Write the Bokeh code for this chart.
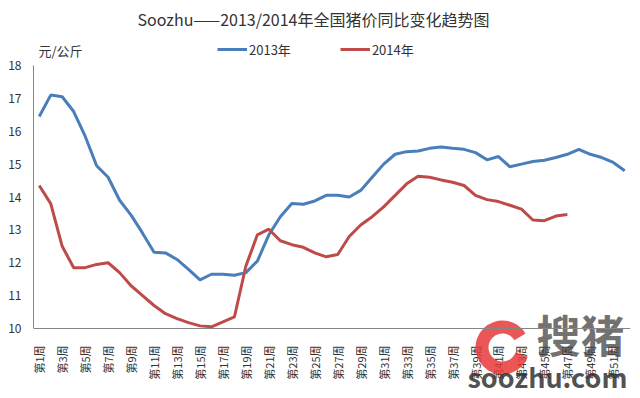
import math
from bokeh.plotting import figure
from bokeh.models import Range1d, FixedTicker, Legend, LegendItem, Span, ColumnDataSource
from bokeh.core.properties import value
from bokeh.embed import file_html
from bokeh.resources import INLINE

week_no = list(range(1, 53))
weeks = [f"第{i}周" for i in week_no]

price_2013 = [16.45, 17.1, 17.05, 16.6, 15.85, 14.95, 14.6, 13.9, 13.45, 12.9,
              12.32, 12.3, 12.1, 11.8, 11.48, 11.65, 11.65, 11.62, 11.7, 12.05,
              12.85, 13.4, 13.8, 13.78, 13.88, 14.05, 14.05, 14.0, 14.2, 14.6,
              15.0, 15.3, 15.38, 15.4, 15.48, 15.52, 15.48, 15.45, 15.35, 15.13,
              15.23, 14.92, 15.0, 15.08, 15.12, 15.2, 15.3, 15.45, 15.3, 15.2,
              15.05, 14.8]

price_2014 = [14.35, 13.8, 12.5, 11.85, 11.85, 11.95, 12.0, 11.7, 11.3, 11.0,
              10.7, 10.45, 10.3, 10.18, 10.08, 10.05, 10.2, 10.35, 11.9, 12.85,
              13.02, 12.67, 12.55, 12.47, 12.3, 12.18, 12.25, 12.8, 13.15, 13.4,
              13.7, 14.05, 14.4, 14.63, 14.6, 14.52, 14.45, 14.35, 14.05, 13.92,
              13.86, 13.75, 13.63, 13.3, 13.28, 13.42, 13.47]

y_ticks = [10, 11, 12, 13, 14, 15, 16, 17, 18]
series_names = ["2013年", "2014年"]
title_text = "Soozhu——2013/2014年全国猪价同比变化趋势图"
unit_text = "元/公斤"

FONT = "Noto Sans CJK SC"
BLUE = "#4A7EBB"
RED = "#BE4B48"
TXT = "#333333"

W, H = 636, 396
Y0, Y1 = 10, 18
PXU = 32.875             # pixels per y unit
Y0_PIX = 328             # pixel row of y = 10
y_lo = Y0 - (H - Y0_PIX) / PXU
y_hi = Y1 + (Y0_PIX - 8 * PXU) / PXU
PXX = 597 / 52           # pixels per week


def dx(px):  # page x pixel -> data x
    return (px - 33) / PXX + 0.5


def dy(py):  # page y pixel -> data y
    return Y0 + (Y0_PIX - py) / PXU


p = figure(width=W, height=H, x_range=Range1d(0.5, 52.5),
           y_range=Range1d(y_lo, y_hi), output_backend="svg",
           toolbar_location=None, title=None,
           min_border_left=33, min_border_right=W - 630,
           min_border_top=0, min_border_bottom=0)
p.outline_line_color = None
p.xgrid.visible = False
p.ygrid.visible = False
p.xaxis.visible = False

r1 = p.line(week_no, price_2013, line_color=BLUE, line_width=3)
r2 = p.line(week_no[:len(price_2014)], price_2014, line_color=RED, line_width=3)

# y axis
p.yaxis.ticker = FixedTicker(ticks=y_ticks)
p.yaxis.bounds = (Y0, Y1)
p.yaxis.major_tick_line_color = None
p.yaxis.minor_tick_line_color = None
p.yaxis.major_tick_out = 6
p.yaxis.axis_line_color = "#868686"
p.yaxis.major_label_text_font = FONT
p.yaxis.major_label_text_font_size = "12px"
p.yaxis.major_label_text_color = TXT
p.yaxis.major_label_standoff = 6

# x axis line and labels (every other week)
p.add_layout(Span(location=Y0, dimension="width", line_color="#868686", line_width=1))
lab_src = ColumnDataSource(dict(x=week_no[::2], y=[dy(345)] * len(week_no[::2]),
                                t=weeks[::2]))
p.text(x="x", y="y", text="t", source=lab_src, angle=math.pi / 2,
       text_align="right", text_baseline="middle",
       text_font=value(FONT), text_font_size="11px", text_color=TXT)

# watermark
p.annular_wedge(x=[dx(502)], y=[dy(347)], inner_radius=14, outer_radius=27,
                inner_radius_units="screen", outer_radius_units="screen",
                start_angle=0.55, end_angle=-0.35, direction="anticlock",
                fill_color="#E83A3A", fill_alpha=0.85, line_color=None)
p.text(x=[dx(536)], y=[dy(365)], text=["搜猪"],
       text_align="left", text_baseline="bottom",
       text_font=value(FONT), text_font_size="44px", text_font_style="bold",
       text_color="#444444", text_alpha=0.75)
p.text(x=[dx(467)], y=[dy(395)], text=["soozhu.com"],
       text_align="left", text_baseline="bottom",
       text_font=value(FONT), text_font_size="27px", text_font_style="bold",
       text_color="#333333", text_alpha=0.85)

# title & unit
p.text(x=[dx(313)], y=[dy(18.5)], text=[title_text],
       text_align="center", text_baseline="middle",
       text_font=value(FONT), text_font_size="16px", text_color=TXT)
p.text(x=[dx(38)], y=[dy(50)], text=[unit_text],
       text_align="left", text_baseline="middle",
       text_font=value(FONT), text_font_size="13px", text_color=TXT)

legend = Legend(items=[LegendItem(label=series_names[0], renderers=[r1]),
                       LegendItem(label=series_names[1], renderers=[r2])],
                location=(184, H - 59), orientation="horizontal",
                glyph_width=30, label_standoff=2, spacing=49,
                padding=0, margin=0, border_line_color=None,
                background_fill_alpha=0,
                label_text_font=FONT, label_text_font_size="13px",
                label_text_color=TXT)
p.add_layout(legend)

open("out.html", "w").write(file_html(p, INLINE))
